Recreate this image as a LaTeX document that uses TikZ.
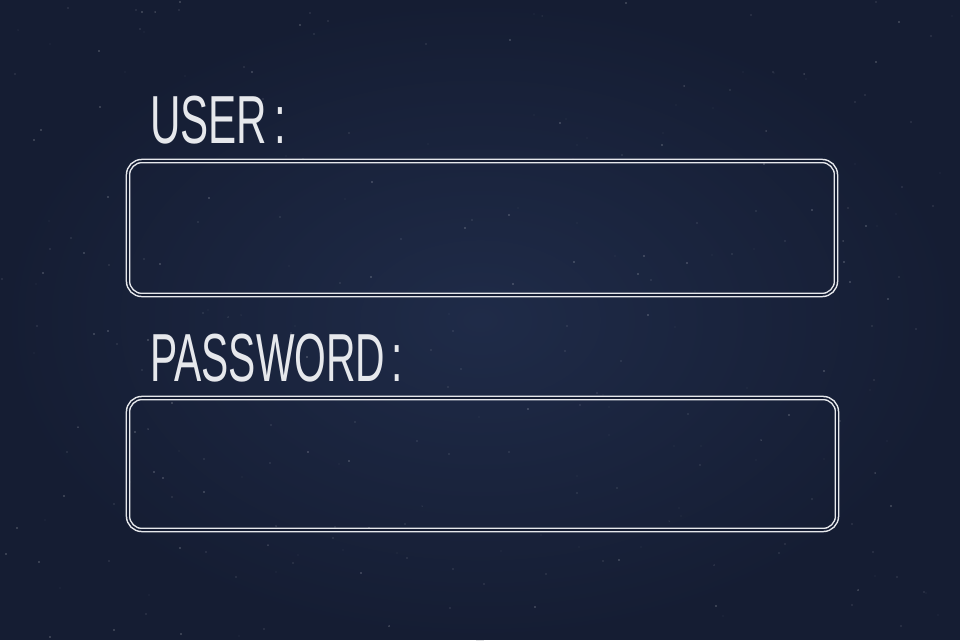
\documentclass[tikz,border=0pt]{standalone}
\usepackage{fontspec}
\setmainfont{Liberation Sans}
\usetikzlibrary{calc}
\definecolor{board}{HTML}{151D33}
\definecolor{boardlight}{HTML}{1F2B48}
\definecolor{chalk}{HTML}{E6E8EC}
\tikzset{
  label text/.style={inner sep=0pt, anchor=base west, text=chalk,
    font=\fontsize{68}{68}\selectfont},
  field/.style={draw=chalk, double=board, double distance=1.6pt, line width=1.5pt,
    rounded corners=14pt, inner sep=0pt},
  speck/.style={fill=chalk, opacity=0.35}
}
\begin{document}
\begin{tikzpicture}[x=1pt,y=-1pt]
\useasboundingbox (0,0) rectangle (960,640);
\begin{scope}
\clip (0,0) rectangle (960,640);
\fill[board] (0,0) rectangle (960,640);
\shade[inner color=boardlight, outer color=board] (480,320) ellipse [x radius=480, y radius=320];
\pgfmathsetseed{42}
\foreach \i in {1,...,260}{
  \pgfmathsetmacro{\px}{random(2,958)}
  \pgfmathsetmacro{\py}{random(2,638)}
  \pgfmathsetmacro{\pr}{0.3+0.6*rnd}
  \fill[speck] (\px,\py) circle [radius=\pr];
}
\end{scope}
\node[label text] (user) at (150,143) {\scalebox{0.62}[1]{USER\,:}};
\node[label text] (pwd) at (150,381) {\scalebox{0.6}[1]{PASSWORD\,:}};
\node[field, minimum width=708pt, minimum height=134pt] (box1) at (482,228) {};
\node[field, minimum width=709pt, minimum height=132pt] (box2) at (482.5,464) {};
\end{tikzpicture}
\end{document}
